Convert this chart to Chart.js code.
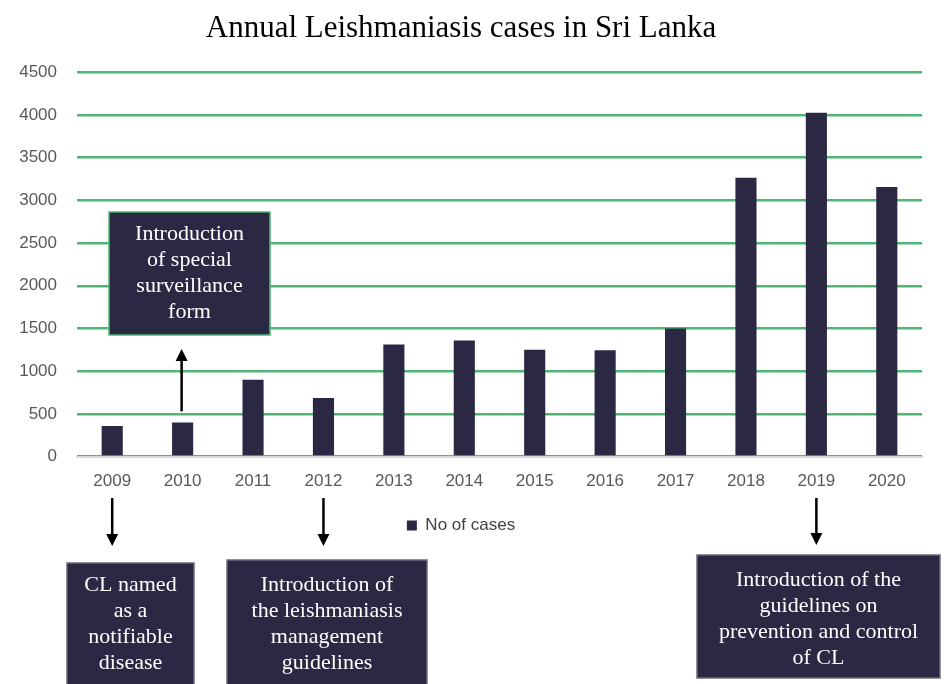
<!DOCTYPE html>
<html>
<head>
<meta charset="utf-8">
<script src="https://cdn.jsdelivr.net/npm/chart.js@4"></script>
<style>
  html,body{margin:0;padding:0;background:#fff;}
  #wrap{width:946px;height:684px;position:relative;}
</style>
</head>
<body>
<div id="wrap"><canvas id="c" width="946" height="684"></canvas></div>
<script>
const years = ["2009","2010","2011","2012","2013","2014","2015","2016","2017","2018","2019","2020"];
const cases = [357, 400, 900, 685, 1311, 1358, 1252, 1244, 1499, 3263, 4026, 3157];
const yTicks = [0, 500, 1000, 1500, 2000, 2500, 3000, 3500, 4000, 4500];

const navy = "#2b2844";
const green = "#4cb874";

// notes drawn over the chart: box rect (px), text lines
const notes = [
  {x:109, y:212, w:161, h:123, border:green, lines:["Introduction","of special","surveillance","form"], top:234},
  {x:67,  y:563, w:127, h:125, border:"#6b6b7a", lines:["CL named","as a","notifiable","disease"], top:585},
  {x:227, y:560, w:200, h:128, border:"#6b6b7a", lines:["Introduction of","the leishmaniasis","management","guidelines"], top:585},
  {x:697, y:555, w:243, h:123, border:"#6b6b7a", lines:["Introduction of the","guidelines on","prevention and control","of CL"], top:580}
];

function arrow(ctx, x, y1, y2){
  const dir = y2 > y1 ? 1 : -1;
  ctx.save();
  ctx.strokeStyle = "#000";
  ctx.fillStyle = "#000";
  ctx.lineWidth = 2.5;
  ctx.beginPath();
  ctx.moveTo(x, y1);
  ctx.lineTo(x, y2 - dir*10);
  ctx.stroke();
  ctx.beginPath();
  ctx.moveTo(x, y2);
  ctx.lineTo(x - 6, y2 - dir*12);
  ctx.lineTo(x + 6, y2 - dir*12);
  ctx.closePath();
  ctx.fill();
  ctx.restore();
}

const notesPlugin = {
  id: "notes",
  afterDraw(chart){
    const ctx = chart.ctx;
    const xs = chart.scales.x;
    const ys = chart.scales.y;
    // arrows
    arrow(ctx, xs.getPixelForValue(1) - 1, ys.getPixelForValue(530), ys.getPixelForValue(1260));
    arrow(ctx, xs.getPixelForValue(0), 498, 546);
    arrow(ctx, xs.getPixelForValue(3), 498, 546);
    arrow(ctx, xs.getPixelForValue(10), 498, 545);
    // boxes
    notes.forEach(n=>{
      ctx.save();
      ctx.fillStyle = navy;
      ctx.fillRect(n.x, n.y, n.w, n.h);
      ctx.strokeStyle = n.border;
      ctx.lineWidth = 1.5;
      ctx.strokeRect(n.x, n.y, n.w, n.h);
      ctx.fillStyle = "#fff";
      ctx.font = "22px 'Liberation Serif', 'DejaVu Serif', serif";
      ctx.textAlign = "center";
      ctx.textBaseline = "middle";
      n.lines.forEach((t,i)=>{
        ctx.fillText(t, n.x + n.w/2, n.top + i*26);
      });
      ctx.restore();
    });
  }
};

new Chart(document.getElementById("c").getContext("2d"), {
  type: "bar",
  data: {
    labels: years,
    datasets: [{
      label: "No of cases",
      data: cases,
      backgroundColor: navy,
      borderWidth: 0,
      barPercentage: 0.6,
      categoryPercentage: 0.5
    }]
  },
  options: {
    responsive: false,
    animation: false,
    devicePixelRatio: 1,
    layout: { padding: { top: 4, right: 24, bottom: 140, left: 0 } },
    plugins: {
      title: {
        display: true,
        text: "Annual Leishmaniasis cases in Sri Lanka",
        color: "#000",
        font: { family: "'Liberation Serif', 'DejaVu Serif', serif", size: 31, weight: "normal" },
        padding: { top: 6, bottom: 25 }
      },
      legend: {
        display: true,
        position: "bottom",
        labels: {
          color: "#404040",
          font: { family: "'Liberation Sans Narrow', 'Liberation Sans', sans-serif", size: 17 },
          boxWidth: 10,
          boxHeight: 10,
          padding: 10
        }
      },
      tooltip: { enabled: false }
    },
    scales: {
      x: {
        grid: { display: false, drawTicks: false },
        border: { display: true, color: "#d9d9d9", width: 2 },
        ticks: {
          color: "#595959",
          padding: 15,
          font: { family: "'Liberation Sans Narrow', 'Liberation Sans', sans-serif", size: 17 }
        }
      },
      y: {
        min: 0,
        max: 4500,
        afterBuildTicks: axis => { axis.ticks = yTicks.map(v => ({ value: v })); },
        afterFit: axis => { axis.width = 77; },
        grid: { color: green, lineWidth: 2.5, drawTicks: false },
        border: { display: false },
        ticks: {
          color: "#595959",
          padding: 20,
          callback: v => String(v),
          font: { family: "'Liberation Sans Narrow', 'Liberation Sans', sans-serif", size: 17 }
        }
      }
    }
  },
  plugins: [notesPlugin]
});
</script>
</body>
</html>
